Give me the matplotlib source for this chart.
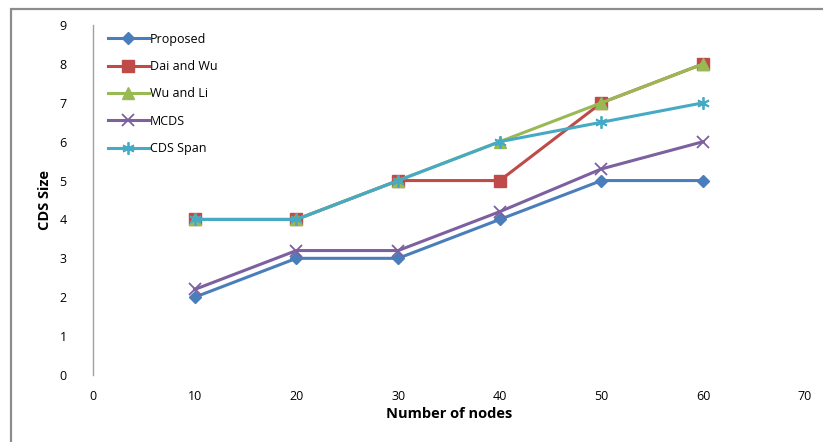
import matplotlib.pyplot as plt
from matplotlib.patches import Rectangle

nodos = [10, 20, 30, 40, 50, 60]
proposed = [2, 3, 3, 4, 5, 5]
dai_wu = [4, 4, 5, 5, 7, 8]
wu_li = [4, 4, 5, 6, 7, 8]
mcds = [2.2, 3.2, 3.2, 4.2, 5.3, 6]
cds_span = [4, 4, 5, 6, 6.5, 7]

plt.rcParams['font.family'] = ['Open Sans', 'DejaVu Sans']

fig = plt.figure(figsize=(8.23, 4.42), dpi=100)
ax = fig.add_axes([0.113, 0.1516, 0.865, 0.7918])

# borde gris del grafico (como en excel)
fig.patches.append(Rectangle((11/823, -0.1), 1.2, 1 - 9/442 + 0.1, transform=fig.transFigure,
                             fill=False, edgecolor='#8c8c8c', linewidth=1.6))

lw = 2.2
ax.plot(nodos, proposed, color='#4A7EBB', marker='D', markersize=6.5, lw=lw, label='Proposed')
ax.plot(nodos, dai_wu, color='#BE4B48', marker='s', markersize=8, lw=lw, label='Dai and Wu')
ax.plot(nodos, wu_li, color='#98B954', marker='^', markersize=8.5, lw=lw, label='Wu and Li')
ax.plot(nodos, mcds, color='#7D60A0', marker='x', markersize=9, mew=1.3, lw=lw, label='MCDS')
ax.plot(nodos, cds_span, color='#46AAC5', marker=(6, 2, 0), markersize=9, mew=1.3, lw=lw, label='CDS Span')

ax.set_xlim(0, 70)
ax.set_ylim(0, 9)
ax.set_xticks(range(0, 80, 10))
ax.set_yticks(range(0, 10))
for s in ['top', 'right', 'bottom']:
    ax.spines[s].set_visible(False)
ax.spines['left'].set_color('#a0a0a0')
ax.spines['left'].set_linewidth(1)
ax.tick_params(axis='both', length=0, labelsize=9)
ax.tick_params(axis='x', pad=11)
ax.tick_params(axis='y', pad=19)

ax.set_xlabel('Number of nodes', fontsize=10.5, fontweight='bold', labelpad=3)
ax.set_ylabel('CDS Size', fontsize=10.5, fontweight='bold', labelpad=5)

ax.legend(loc='upper left', bbox_to_anchor=(0.01, 1.0), frameon=False, fontsize=9,
          handlelength=3.3, handletextpad=0.1, labelspacing=1.15, borderaxespad=0.2)

plt.savefig('out.png', dpi=100)
